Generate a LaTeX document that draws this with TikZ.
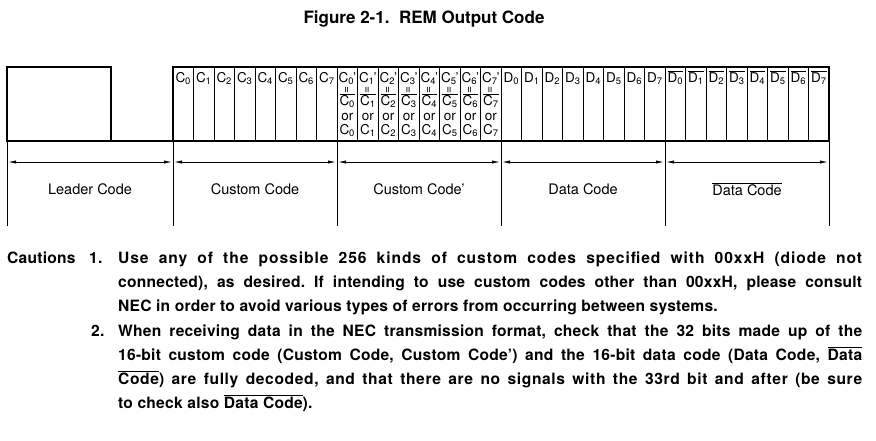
\documentclass[tikz,border=0pt]{standalone}
\usepackage{fontspec}
\setmainfont{TeX Gyre Heros}
\usetikzlibrary{arrows.meta}

\newcommand{\ovl}[1]{$\overline{\mbox{#1}}$}
\newcommand{\bitC}[1]{C\textsubscript{#1}}
\newcommand{\bitCp}[1]{C\textsubscript{#1}\kern-1pt'}
\newcommand{\bitD}[1]{D\textsubscript{#1}}
\newcommand{\vereq}{\rotatebox{90}{\fontsize{12}{12}\selectfont =}}
\newcommand{\wide}[1]{{\addfontfeature{LetterSpace=#1}}}

\begin{document}
\frenchspacing
\begin{tikzpicture}[x=1pt,y=-1pt,
    wave/.style={line width=1.6pt},
    cell/.style={line width=0.8pt},
    dimline/.style={line width=0.8pt},
    dimarrow/.style={line width=0.8pt,{Latex[length=8pt,width=3.2pt]}-{Latex[length=8pt,width=3.2pt]},shorten <=1pt,shorten >=1pt},
    bit/.style={font=\fontsize{13.5}{14}\selectfont,inner sep=0pt,anchor=base},
    fieldlabel/.style={font=\fontsize{14.5}{16}\selectfont},
    body/.style={font=\fontsize{15.6}{18}\selectfont\bfseries\addfontfeature{LetterSpace=1.5},anchor=base west,inner sep=0pt}]
    \useasboundingbox (0,0) rectangle (876,440);

    % title
    \node[font=\fontsize{17}{20}\selectfont\bfseries] (title) at (424,19) {Figure 2-1.\ \ REM Output Code};

    % leader pulse and the 32 bit frame
    \draw[wave] (7,141) -- (7,67) -- (111,67) -- (111,141) -- (173,141) -- (173,67) -- (829,67) -- (829,141) -- cycle;
    \foreach \k in {1,...,31}
        \draw[cell] (173+20.5*\k,67) -- (173+20.5*\k,141);

    % bit names
    \foreach \i in {0,...,7} {
        \node[bit] (cc\i) at (183.25+20.5*\i,82.5) {\bitC{\i}};
        \node[bit] (cq\i) at (347.25+20.5*\i,82.5) {\bitCp{\i}};
        \node[bit,anchor=center] (ceq\i) at (347.25+20.5*\i,89.5) {\vereq};
        \node[bit] (cbar\i) at (347.25+20.5*\i,105.5) {\ovl{\bitC{\i}}};
        \node[bit] (cor\i) at (347.25+20.5*\i,120) {or};
        \node[bit] (cnot\i) at (347.25+20.5*\i,134.5) {\bitC{\i}};
        \node[bit] (dd\i) at (511.25+20.5*\i,82.5) {\bitD{\i}};
        \node[bit] (dbar\i) at (675.25+20.5*\i,82.5) {\ovl{\bitD{\i}}};
    }

    % field boundaries and spans
    \foreach \s [count=\n from 0] in {7,173,337,501,665,829} {
        \coordinate (s\n) at (\s,141);
        \coordinate (a\n) at (\s,162);
        \draw[dimline] (s\n) -- ++(0,85);
    }
    \foreach \a/\b in {0/1,1/2,2/3,3/4,4/5}
        \draw[dimarrow] (a\a) -- (a\b);

    \node[fieldlabel] (lead) at (90,189) {Leader Code};
    \node[fieldlabel] (cust) at (255,189) {Custom Code};
    \node[fieldlabel] (custq) at (419,189) {Custom Code'};
    \node[fieldlabel] (data) at (583,189) {Data Code};
    \node[fieldlabel] (datab) at (747,189) {\ovl{Data Code}};

    % cautions
    \node[body] (caut) at (7,263) {Cautions};
    \node[body] (n1) at (89,263) {1.};
    \node[body] (t1a) at (118,263) {\addfontfeature{LetterSpace=6}\makebox[744pt][s]{Use any of the possible 256 kinds of custom codes specified with 00xxH (diode not}};
    \node[body] (t1b) at (118,287) {\makebox[744pt][s]{connected), as desired. If intending to use custom codes other than 00xxH, please consult}};
    \node[body] (t1c) at (118,311) {NEC in order to avoid various types of errors from occurring between systems.};
    \node[body] (n2) at (91,336) {2.};
    \node[body] (t2a) at (118,336) {\makebox[744pt][s]{When receiving data in the NEC transmission format, check that the 32 bits made up of the}};
    \node[body] (t2b) at (118,360) {\makebox[744pt][s]{16-bit custom code (Custom Code, Custom Code') and the 16-bit data code (Data Code, \ovl{Data}}};
    \node[body] (t2c) at (118,384) {\addfontfeature{LetterSpace=4}\makebox[744pt][s]{\ovl{Code}) are fully decoded, and that there are no signals with the 33rd bit and after (be sure}};
    \node[body] (t2d) at (118,408) {to check also \ovl{Data Code}).};
\end{tikzpicture}
\end{document}
